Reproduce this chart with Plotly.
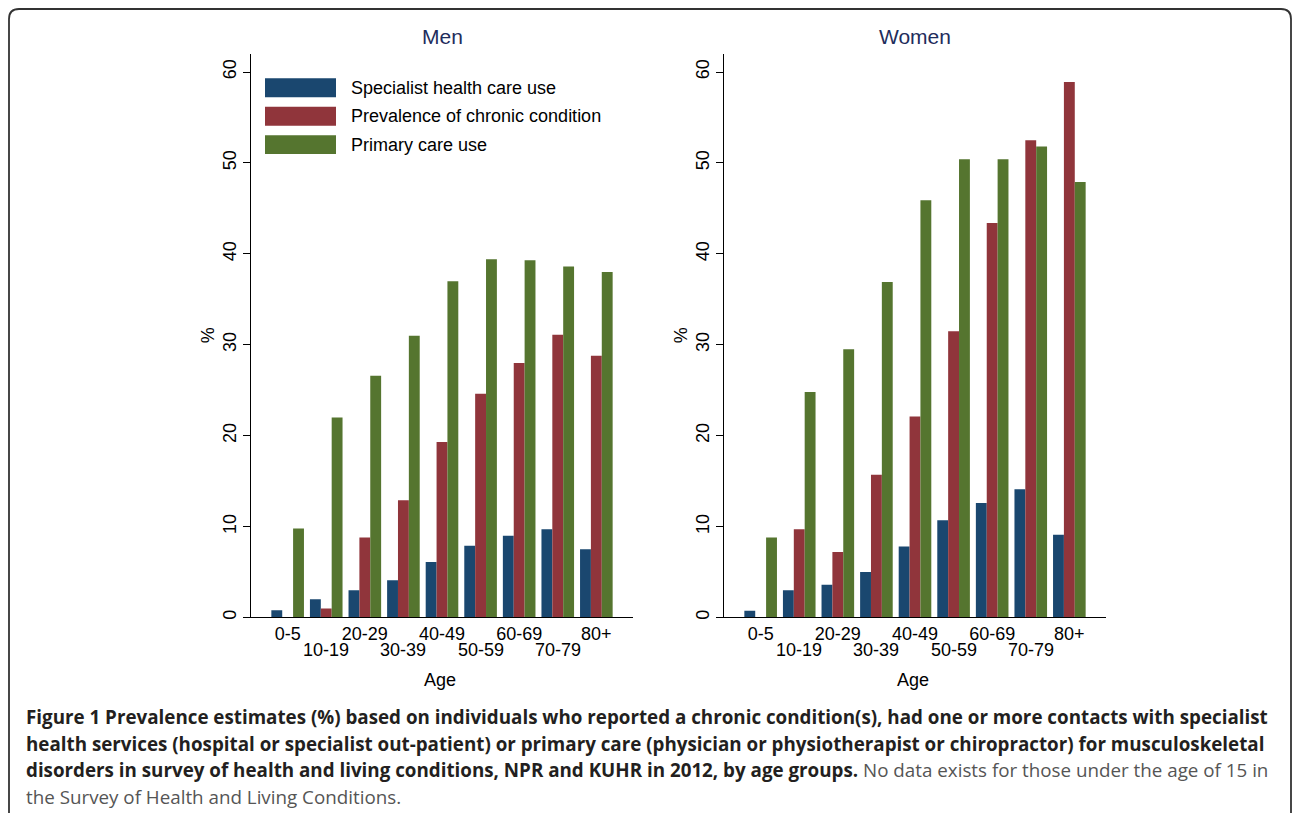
import plotly.graph_objects as go

W, H = 1292, 813

ages = ["0-5", "10-19", "20-29", "30-39", "40-49", "50-59", "60-69", "70-79", "80+"]

series_names = ["Specialist health care use", "Prevalence of chronic condition", "Primary care use"]
series_colors = ["#1a476f", "#90353b", "#55752f"]

men_specialist = [0.8, 2.0, 3.0, 4.1, 6.1, 7.9, 9.0, 9.7, 7.5]
men_chronic = [None, 1.0, 8.8, 12.9, 19.3, 24.6, 28.0, 31.1, 28.8]
men_primary = [9.8, 22.0, 26.6, 31.0, 37.0, 39.4, 39.3, 38.6, 38.0]

women_specialist = [0.75, 3.0, 3.6, 5.0, 7.8, 10.7, 12.6, 14.1, 9.1]
women_chronic = [None, 9.7, 7.2, 15.7, 22.1, 31.5, 43.4, 52.5, 58.9]
women_primary = [8.8, 24.8, 29.5, 36.9, 45.9, 50.4, 50.4, 51.8, 47.9]

y_ticks = [0, 10, 20, 30, 40, 50, 60]

# Upper-row tick labels on the axis; lower-row ones are staggered below
upper_labels = [a if i % 2 == 0 else "" for i, a in enumerate(ages)]
lower_labels = [a for i, a in enumerate(ages) if i % 2 == 1]


def px(x):
    return x / W


def py(y):
    return 1 - y / H


fig = go.Figure()

panels = [
    ("x", "y", [men_specialist, men_chronic, men_primary]),
    ("x2", "y2", [women_specialist, women_chronic, women_primary]),
]
for xa, ya, vals in panels:
    for name, color, v in zip(series_names, series_colors, vals):
        fig.add_trace(go.Bar(
            x=ages, y=v, name=name, xaxis=xa, yaxis=ya,
            marker=dict(color=color, line=dict(width=0)),
            showlegend=False,
        ))

font_main = "Liberation Sans, Arial, sans-serif"

axis_common_x = dict(
    type="category", range=[-0.95, 8.95],
    tickmode="array", tickvals=ages, ticktext=upper_labels,
    tickangle=0,
    showline=True, linecolor="#000000", linewidth=1.3,
    ticks="", showgrid=False, zeroline=False,
    tickfont=dict(family=font_main, size=18, color="#000000"),
    fixedrange=True,
)
axis_common_y = dict(
    range=[0, 62], tickmode="array", tickvals=y_ticks,
    showline=True, linecolor="#000000", linewidth=1.3,
    ticks="outside", ticklen=7, tickwidth=1.2, tickcolor="#000000",
    tickangle=-90, showgrid=False, zeroline=False,
    tickfont=dict(family=font_main, size=18, color="#000000"),
    fixedrange=True,
)

y_dom = [py(619), py(54)]
fig.update_layout(
    width=W, height=H,
    margin=dict(l=0, r=0, t=0, b=0),
    paper_bgcolor="white", plot_bgcolor="white",
    barmode="group", bargap=0.155, bargroupgap=0,
    showlegend=False,
    xaxis=dict(domain=[px(251), px(633)], anchor="y", **axis_common_x),
    yaxis=dict(domain=y_dom, anchor="x", **axis_common_y),
    xaxis2=dict(domain=[px(724), px(1106)], anchor="y2", **axis_common_x),
    yaxis2=dict(domain=y_dom, anchor="x2", **axis_common_y),
    font=dict(family=font_main),
)

annotations = []
shapes = []

# Lower-row (staggered) category labels, positioned via the category axes
for xref in ["x", "x2"]:
    for lab in lower_labels:
        annotations.append(dict(
            text=lab, x=lab, y=py(652), xref=xref, yref="paper",
            showarrow=False, xanchor="center", yanchor="middle",
            font=dict(family=font_main, size=18, color="#000000"),
        ))

# Panel titles
for label, cx in [("Men", 442), ("Women", 915)]:
    annotations.append(dict(
        text=label, x=px(cx), y=py(37), xref="paper", yref="paper",
        showarrow=False, xanchor="center", yanchor="middle",
        font=dict(family=font_main, size=21, color="#1e2d5c"),
    ))

# Axis titles
for cx in [440, 913]:
    annotations.append(dict(
        text="Age", x=px(cx), y=py(682), xref="paper", yref="paper",
        showarrow=False, xanchor="center", yanchor="middle",
        font=dict(family=font_main, size=18, color="#000000"),
    ))
for cx in [208, 681]:
    annotations.append(dict(
        text="%", x=px(cx), y=py(336), xref="paper", yref="paper",
        showarrow=False, xanchor="center", yanchor="middle", textangle=-90,
        font=dict(family=font_main, size=18, color="#000000"),
    ))

# Legend (custom, inside Men panel)
legend_rows = [88, 116.5, 145]
for name, color, cy in zip(series_names, series_colors, legend_rows):
    shapes.append(dict(
        type="rect", xref="paper", yref="paper",
        x0=px(265), x1=px(336), y0=py(cy + 9.5), y1=py(cy - 9.5),
        fillcolor=color, line=dict(width=0),
    ))
    annotations.append(dict(
        text=name, x=px(349), y=py(cy), xref="paper", yref="paper",
        showarrow=False, xanchor="left", yanchor="middle",
        font=dict(family=font_main, size=18, color="#000000"),
    ))

# Caption
cap_font = "Open Sans, sans-serif"
cap_lines = [
    ("<b>Figure 1 Prevalence estimates (%) based on individuals who reported a chronic condition(s), had one or more contacts with specialist</b>", 719),
    ("<b>health services (hospital or specialist out-patient) or primary care (physician or physiotherapist or chiropractor) for musculoskeletal</b>", 745.5),
    ("<b>disorders in survey of health and living conditions, NPR and KUHR in 2012, by age groups.</b> <span style='color:#555555'>No data exists for those under the age of 15 in</span>", 772),
    ("<span style='color:#555555'>the Survey of Health and Living Conditions.</span>", 798.5),
]
for txt, cy in cap_lines:
    annotations.append(dict(
        text=txt, x=px(24), y=py(cy), xref="paper", yref="paper",
        showarrow=False, xanchor="left", yanchor="middle",
        font=dict(family=cap_font, size=18.8, color="#231f20"),
    ))

# Rounded frame
r = 10
x0, y0, x1 = 9, 9, 1291
path = (f"M {px(x0)} {py(H + 20)} L {px(x0)} {py(y0 + r)} "
        f"Q {px(x0)} {py(y0)} {px(x0 + r)} {py(y0)} "
        f"L {px(x1 - r)} {py(y0)} Q {px(x1)} {py(y0)} {px(x1)} {py(y0 + r)} "
        f"L {px(x1)} {py(H + 20)}")
shapes.append(dict(type="path", xref="paper", yref="paper", path=path,
                   line=dict(color="#333333", width=1.8)))

fig.update_layout(annotations=annotations, shapes=shapes)

fig.write_html(
    "out.html", config={"displayModeBar": False},
    post_script="document.body.style.margin='0';document.body.style.overflow='hidden';",
)
